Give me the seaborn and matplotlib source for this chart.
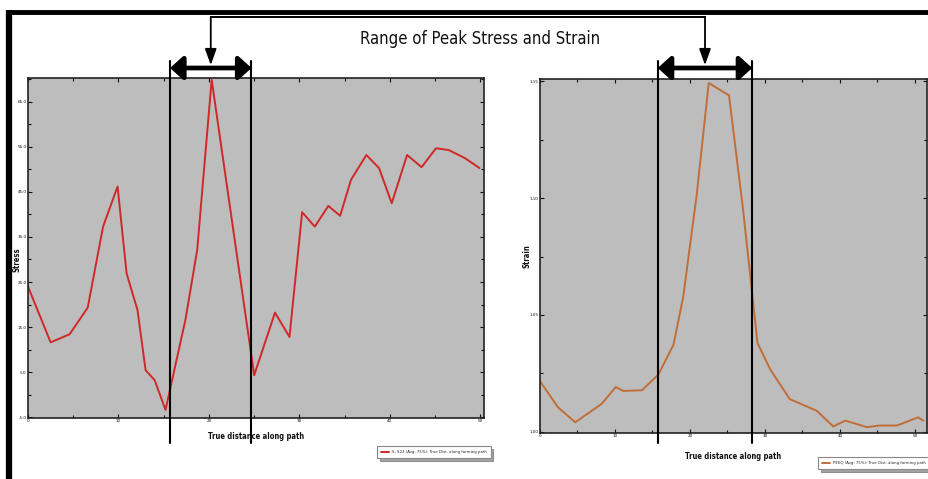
import numpy as np
import pandas as pd
import matplotlib
matplotlib.use("Agg")
import matplotlib.pyplot as plt
from matplotlib.patches import FancyArrowPatch
from matplotlib.lines import Line2D
from matplotlib.ticker import FixedLocator, MultipleLocator, FormatStrFormatter
import seaborn as sns

# ---------------- data ----------------
stress_x = [0, 2.5, 3.2, 3.9, 4.6, 6.6, 8.3, 9.9, 10.9, 12.1, 13.0, 14.0, 15.2,
            17.4, 18.7, 20.3, 25.0, 27.3, 28.9, 30.3, 31.7, 33.2, 34.5, 35.7,
            37.4, 38.8, 40.2, 41.9, 43.5, 45.1, 46.5, 48.3, 49.9]
stress = [24.0, 11.6, 12.2, 12.8, 13.4, 19.3, 37.3, 46.2, 26.9, 18.8, 5.4, 3.2, -3.4,
          16.6, 32.1, 69.9, 4.3, 18.2, 12.8, 40.5, 37.3, 41.9, 39.7, 47.7,
          53.2, 50.3, 42.5, 53.2, 50.5, 54.7, 54.3, 52.5, 50.3]

strain_x = [0, 2.4, 4.7, 8.2, 10.1, 11.1, 13.6, 15.8, 17.8, 19.1, 20.9, 22.5,
            25.2, 27.1, 28.1, 29.0, 30.7, 33.3, 36.9, 39.1, 40.7, 43.6, 45.3,
            47.6, 50.4, 51.1]
strain = [1.0217, 1.0105, 1.0041, 1.0119, 1.0192, 1.0175, 1.0178, 1.0246, 1.0373,
          1.0578, 1.1016, 1.1493, 1.1440, 1.0945, 1.0648, 1.0380, 1.0267, 1.0140,
          1.0090, 1.0023, 1.0048, 1.0020, 1.0027, 1.0027, 1.0062, 1.0048]

stress_yticks = [-5, 5, 15, 25, 35, 45, 55, 65]
strain_yticks = [1.00, 1.05, 1.10, 1.15]
x_ticks = [0, 10, 20, 30, 40, 50]

stress_range = [15.7, 24.7]
strain_range = [15.7, 28.3]

title_text = "Range of Peak Stress and Strain"
xlabel_text = "True distance along path"
stress_label = "S, S22 (Avg: 75%): True Dist. along forming path"
strain_label = "PEEQ (Avg: 75%): True Dist. along forming path"

df_stress = pd.DataFrame({"x": stress_x, "y": stress})
df_strain = pd.DataFrame({"x": strain_x, "y": strain})

# ---------------- style ----------------
sns.set_style("ticks")
plt.rcParams['font.family'] = ['DejaVu Sans']

W, H = 929, 479
fig = plt.figure(figsize=(W / 100, H / 100), dpi=100)
fig.patch.set_facecolor("white")

def px(x0, y0, x1, y1):
    return [x0 / W, 1 - y1 / H, (x1 - x0) / W, (y1 - y0) / H]

axL = fig.add_axes(px(28, 78, 484, 418))
axR = fig.add_axes(px(540, 79, 927, 433))

gray = "#bdbdbd"
for ax in (axL, axR):
    ax.set_facecolor(gray)
    for s in ax.spines.values():
        s.set_color("#222222")
        s.set_linewidth(1.2)
    ax.tick_params(which="both", direction="in", top=True, right=True,
                   labelsize=3.0, width=0.8, colors="#111111", pad=1.0)
    ax.tick_params(which="major", length=3)
    ax.tick_params(which="minor", length=2)

sns.lineplot(data=df_stress, x="x", y="y", ax=axL, color="#d02828", lw=1.4,
             label=stress_label, sort=False, legend=False)
sns.lineplot(data=df_strain, x="x", y="y", ax=axR, color="#bf6e38", lw=1.4,
             label=strain_label, sort=False, legend=False)

axL.set_xlim(0, 50.4)
axL.set_ylim(-5.2, 70.3)
axL.xaxis.set_major_locator(FixedLocator(x_ticks))
axL.xaxis.set_minor_locator(MultipleLocator(5))
axL.yaxis.set_major_locator(FixedLocator(stress_yticks))
axL.yaxis.set_minor_locator(MultipleLocator(5))
axL.yaxis.set_major_formatter(FormatStrFormatter("%.1f"))

axR.set_xlim(0, 51.6)
axR.set_ylim(0.9995, 1.151)
axR.xaxis.set_major_locator(FixedLocator(x_ticks))
axR.xaxis.set_minor_locator(MultipleLocator(5))
axR.yaxis.set_major_locator(FixedLocator(strain_yticks))
axR.yaxis.set_minor_locator(MultipleLocator(0.025))
axR.yaxis.set_major_formatter(FormatStrFormatter("%.2f"))

lab_kw = dict(fontsize=5.5, fontweight="bold", color="#111111", fontstretch="condensed")
axL.set_xlabel(xlabel_text, labelpad=6, **lab_kw)
axR.set_xlabel(xlabel_text, labelpad=10, **lab_kw)
axL.set_ylabel("Stress", **lab_kw)
axR.set_ylabel("Strain", **lab_kw)
axL.yaxis.set_label_coords(-0.014, 0.465)
axR.yaxis.set_label_coords(-0.022, 0.50)

leg_kw = dict(fontsize=2.8, frameon=True, fancybox=False, shadow=True,
              edgecolor="#888888", facecolor="white", handlelength=2.0,
              borderpad=1.0, borderaxespad=0, loc="upper left",
              bbox_transform=fig.transFigure)
lgL = axL.legend(bbox_to_anchor=(377 / W, 1 - 446 / H), **leg_kw)
lgR = axR.legend(bbox_to_anchor=(818 / W, 1 - 457 / H), **leg_kw)
for lg in (lgL, lgR):
    lg.get_frame().set_linewidth(0.8)

# ---------------- annotations ----------------
y_bracket = 1 - 68 / H
y_line_bot = 1 - 443 / H
y_top = 1 - 17 / H

def fig_x(ax, xd):
    disp = ax.transData.transform((xd, 0))
    return fig.transFigure.inverted().transform(disp)[0]

centers = []
for ax, rng in ((axL, stress_range), (axR, strain_range)):
    x1, x2 = fig_x(ax, rng[0]), fig_x(ax, rng[1])
    for xx in (x1, x2):
        fig.add_artist(Line2D([xx, xx], [y_line_bot, y_bracket + 0.014],
                              transform=fig.transFigure, color="black", lw=1.5))
    fig.add_artist(FancyArrowPatch((x1, y_bracket), (x2, y_bracket),
                                   transform=fig.transFigure,
                                   arrowstyle="<|-|>,head_length=0.55,head_width=0.5",
                                   mutation_scale=14, color="black", lw=3.4,
                                   shrinkA=0, shrinkB=0))
    cx = (x1 + x2) / 2
    centers.append(cx)
    fig.add_artist(FancyArrowPatch((cx, y_top), (cx, y_bracket + 0.006),
                                   transform=fig.transFigure,
                                   arrowstyle="-|>,head_length=0.7,head_width=0.25",
                                   mutation_scale=14, color="black", lw=1.3,
                                   shrinkA=0, shrinkB=0))

fig.add_artist(Line2D([centers[0], centers[1]], [y_top, y_top],
                      transform=fig.transFigure, color="black", lw=1.4,
                      solid_capstyle="projecting"))

fig.text(480 / W, 1 - 39 / H, title_text, ha="center", va="center",
         fontsize=12, color="#111111", fontstretch="condensed",
         fontweight="medium")

# outer frame (left and top edges)
fig.add_artist(Line2D([9 / W, 9 / W], [0, 1 - 10 / H], transform=fig.transFigure,
                      color="black", lw=4.5, solid_capstyle="butt"))
fig.add_artist(Line2D([7 / W, 1], [1 - 12 / H, 1 - 12 / H], transform=fig.transFigure,
                      color="black", lw=3.5, solid_capstyle="butt"))

fig.savefig("out.png", dpi=100, facecolor="white")
